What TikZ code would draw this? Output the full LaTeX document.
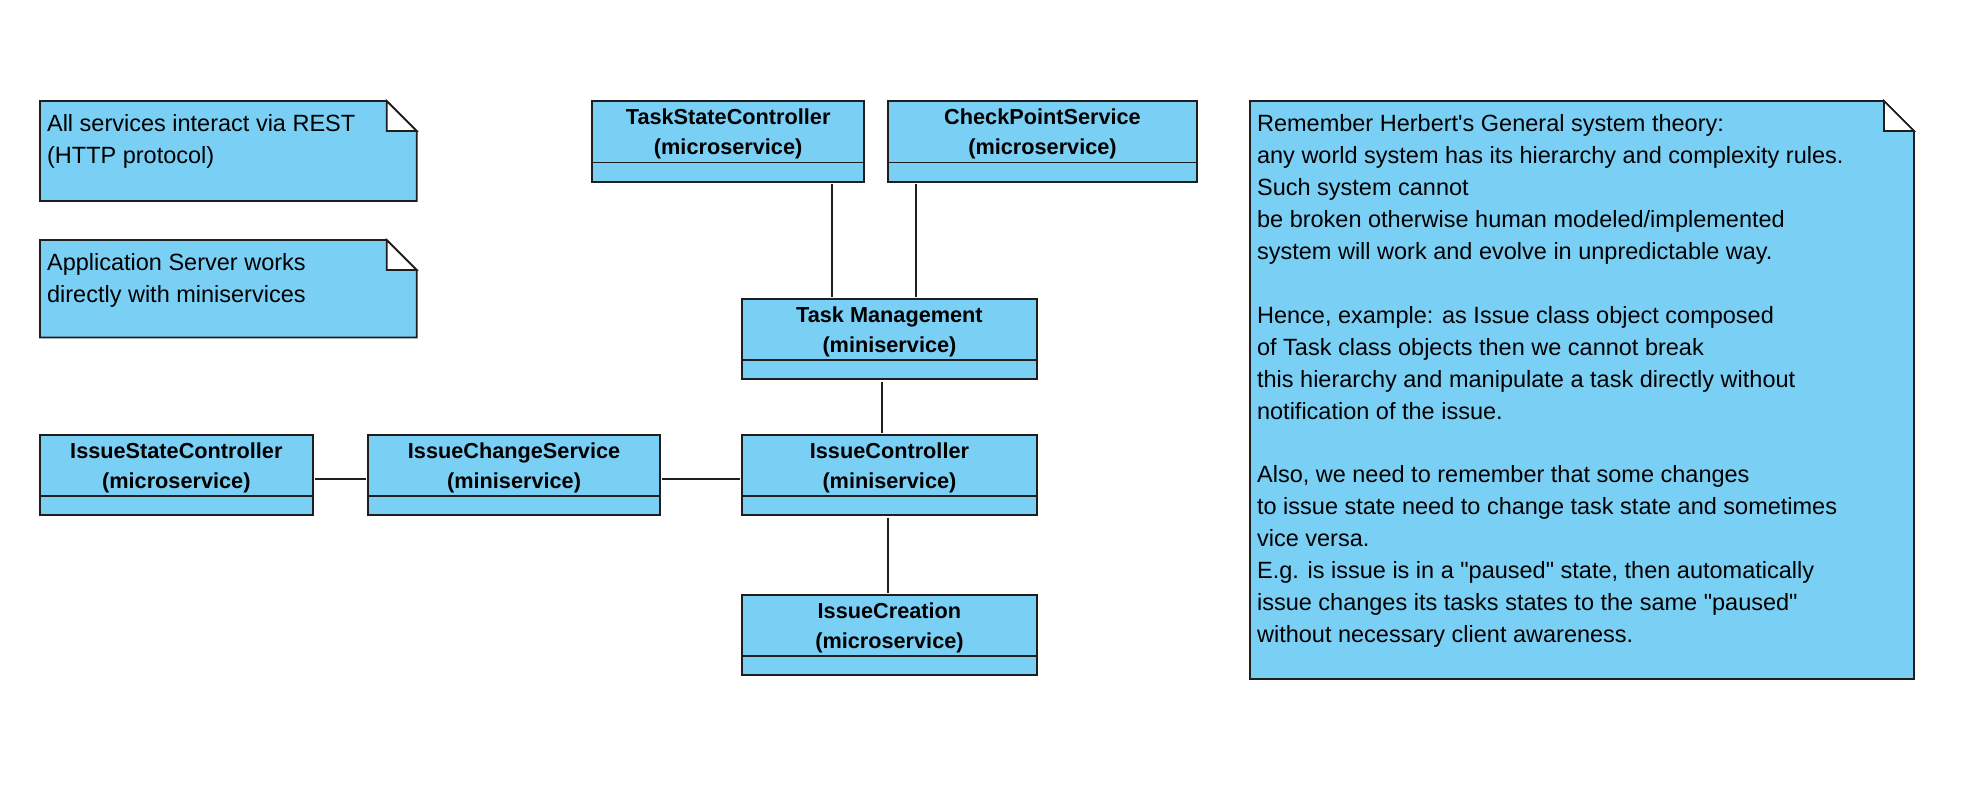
\documentclass[tikz,border=0pt]{standalone}
\usepackage{fontspec}
\setmainfont{Liberation Sans}[Ligatures=TeXOff]
\usetikzlibrary{calc,fit}
\definecolor{umlfill}{RGB}{122,207,245}
\definecolor{umlline}{RGB}{30,30,30}
\tikzset{
  boxline/.style={draw=umlline, line width=0.85pt},
  conn/.style={draw=umlline, line width=0.85pt, shorten <=0.8pt, shorten >=0.8pt},
  classtitle/.style={anchor=north, inner sep=0pt, align=center, font=\bfseries\fontsize{10.85}{14.75}\selectfont},
  notetext/.style={anchor=north west, inner sep=0pt, align=left, font=\fontsize{11.75}{15.95}\selectfont},
}
\newcommand{\umlclass}[6]{%
  \node[fit={(#2,#3) (#4,#5)}, inner sep=0pt, boxline, fill=umlfill] (#1) {};
  \draw[boxline] ($(#1.south west)+(0,-20)$) -- ($(#1.south east)+(0,-20)$);
  \node[classtitle] (#1-t) at ($(#1.north)+(0,4)$) {#6};
}
\newcommand{\umlnote}[6]{%
  \path[boxline, fill=umlfill] (#2,#3) -- (#4-30,#3) -- (#4,#3+30) -- (#4,#5) -- (#2,#5) -- cycle;
  \path[boxline, fill=white] (#4-30,#3) -- (#4-30,#3+30) -- (#4,#3+30) -- cycle;
  \node[notetext] (#1) at (#2+6.7,#3+10.5) {#6};
}
\begin{document}
\begin{tikzpicture}[x=0.5pt,y=-0.5pt]
\fill[white] (0,0) rectangle (1986,799);
\useasboundingbox (0,0) rectangle (1986,799);

% notes
\umlnote{noteRest}{40}{101}{416.7}{201}{\rule{0pt}{10pt}All services interact via REST\\(HTTP protocol)}
\umlnote{noteApp}{40}{240}{416.7}{337.5}{\rule{0pt}{10pt}Application Server works\\directly with miniservices}
\umlnote{noteTheory}{1250}{101}{1914}{679}{\rule{0pt}{10pt}Remember Herbert's General system theory:\\
any world system has its hierarchy and complexity rules.\\
Such system cannot\\
be broken otherwise human modeled/implemented\\
system will work and evolve in unpredictable way.\\[15.95pt]
Hence, example: as Issue class object composed\\
of Task class objects then we cannot break\\
this hierarchy and manipulate a task directly without\\
notification of the issue.\\[15.95pt]
Also, we need to remember that some changes\\
to issue state need to change task state and sometimes\\
vice versa.\\
E.g. is issue is in a "paused" state, then automatically\\
issue changes its tasks states to the same "paused"\\
without necessary client awareness.}

% classes
\umlclass{tsc}{592}{101}{864.3}{181.7}{\rule{0pt}{10pt}TaskStateController\\(microservice)}
\umlclass{cps}{888.3}{101}{1196.7}{181.7}{\rule{0pt}{10pt}CheckPointService\\(microservice)}
\umlclass{tm}{742.2}{299.3}{1036.7}{379.3}{\rule{0pt}{10pt}Task Management\\(miniservice)}
\umlclass{ic}{742.2}{435.3}{1036.7}{515.3}{\rule{0pt}{10pt}IssueController\\(miniservice)}
\umlclass{icr}{742.2}{595}{1036.7}{675.3}{\rule{0pt}{10pt}IssueCreation\\(microservice)}
\umlclass{isc}{40}{435.3}{312.7}{515.3}{\rule{0pt}{10pt}IssueStateController\\(microservice)}
\umlclass{ics}{368.3}{435.3}{659.8}{515.3}{\rule{0pt}{10pt}IssueChangeService\\(miniservice)}

% connector guide coordinates
\coordinate (xA) at (832,0);
\coordinate (xB) at (916,0);
\coordinate (xC) at (882,0);
\coordinate (xD) at (888,0);
\coordinate (yE) at (0,479);

% connectors
\draw[conn] (tsc.south -| xA) -- (tm.north -| xA);
\draw[conn] (cps.south -| xB) -- (tm.north -| xB);
\draw[conn] (tm.south -| xC) -- (ic.north -| xC);
\draw[conn] (ic.south -| xD) -- (icr.north -| xD);
\draw[conn] (isc.east |- yE) -- (ics.west |- yE);
\draw[conn] (ics.east |- yE) -- (ic.west |- yE);
\end{tikzpicture}
\end{document}
